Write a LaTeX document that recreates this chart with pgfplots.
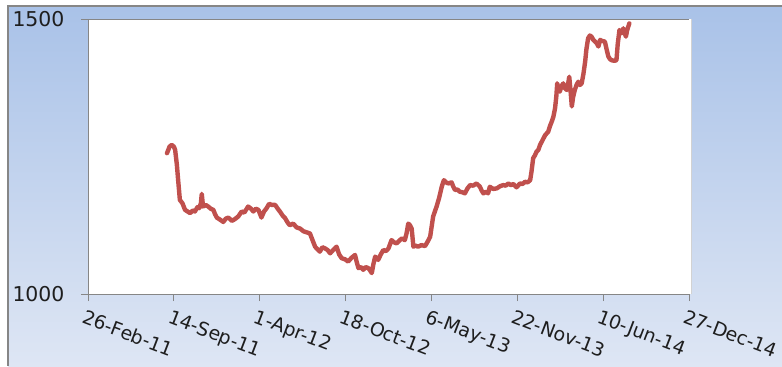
\documentclass[border=0pt]{standalone}
\usepackage{pgfplots}
\pgfplotsset{compat=1.18}
\usepackage{fontspec}
\setmainfont{DejaVu Sans}
\definecolor{bgtop}{RGB}{169,194,232}
\definecolor{bgbot}{RGB}{222,230,244}
\definecolor{axgray}{RGB}{134,134,134}
\definecolor{linered}{RGB}{192,80,77}
\definecolor{txt}{RGB}{30,30,30}
\pgfplotstableread{
day val
184 1256
190 1268
195 1271
200 1268
203 1262
207 1235
210 1207
214 1171
220 1165
226 1153
232 1150
238 1147
244 1152
249 1150
255 1158
259 1156
263 1165
265 1182
268 1159
274 1162
280 1159
286 1155
292 1153
296 1145
300 1139
308 1135
315 1131
321 1137
327 1139
335 1133
342 1136
350 1141
358 1150
364 1148
373 1159
380 1155
385 1150
391 1155
397 1153
404 1139
410 1150
416 1156
422 1164
428 1162
436 1162
442 1155
447 1150
453 1143
459 1138
465 1130
470 1125
478 1128
486 1121
494 1119
502 1114
510 1112
517 1110
523 1098
529 1086
535 1081
540 1077
546 1085
552 1083
558 1080
564 1074
571 1080
579 1086
585 1072
591 1065
599 1063
606 1059
614 1066
622 1071
626 1058
630 1047
636 1049
641 1044
647 1049
653 1047
657 1043
661 1038
665 1055
669 1068
676 1062
682 1072
688 1080
694 1078
700 1083
707 1098
713 1094
719 1092
725 1097
731 1101
738 1098
742 1110
746 1128
750 1125
754 1119
758 1086
763 1088
769 1086
777 1089
785 1087
791 1095
797 1104
804 1141
812 1159
818 1175
824 1195
829 1207
834 1203
839 1201
847 1203
851 1195
855 1189
861 1190
866 1186
872 1185
878 1183
884 1192
890 1198
897 1197
905 1201
913 1195
917 1188
921 1183
927 1186
932 1183
936 1195
944 1191
952 1192
960 1196
967 1198
973 1197
979 1201
985 1198
991 1200
998 1194
1002 1197
1006 1201
1012 1200
1018 1204
1024 1203
1030 1207
1033 1222
1037 1247
1041 1252
1045 1259
1049 1262
1053 1271
1059 1280
1065 1289
1072 1295
1076 1305
1080 1313
1084 1322
1088 1338
1091 1360
1093 1383
1096 1372
1099 1368
1103 1378
1107 1383
1111 1374
1115 1371
1118 1380
1121 1395
1124 1370
1127 1341
1130 1358
1134 1371
1138 1380
1142 1386
1146 1380
1150 1383
1154 1400
1158 1422
1161 1445
1165 1465
1169 1470
1173 1468
1177 1462
1181 1459
1185 1456
1189 1450
1193 1462
1198 1460
1204 1459
1208 1445
1212 1432
1216 1427
1220 1425
1226 1424
1231 1425
1234 1455
1238 1480
1243 1474
1247 1483
1250 1475
1253 1468
1256 1480
1261 1492
}\series
\begin{document}
\begin{tikzpicture}[x=1bp,y=1bp]
\useasboundingbox (0,0) rectangle (782,366);
\fill[white] (0,0) rectangle (782,366);
\shade[top color=bgtop,bottom color=bgbot] (8,0) rectangle (782,360);
\draw[axgray,line width=1.5bp] (8,0) -- (8,360) -- (782,360);
\fill[white] (88,72) rectangle (691,347);
\draw[gray!35,line width=0.8bp] (691,72)--(691,347);
\begin{axis}[
  at={(88bp,72bp)}, anchor=south west,
  scale only axis, width=601bp, height=275bp,
  xmin=0, xmax=1400, ymin=1000, ymax=1500,
  xtick={0,200,...,1400},
  xticklabels={26-Feb-11,14-Sep-11,1-Apr-12,18-Oct-12,6-May-13,22-Nov-13,10-Jun-14,27-Dec-14},
  ytick={1000,1500},
  axis x line*=bottom, axis y line*=left,
  axis line style={axgray, line width=1bp, -},
  ymajorgrids, grid style={axgray, line width=1bp},
  tick style={axgray, line width=1bp},
  tick align=outside, major tick length=7bp,
  /pgf/number format/assume math mode=true,
  /pgf/number format/set thousands separator={},
  tick label style={text=txt},
  x tick label style={rotate=-21, anchor=north west, inner sep=1bp, yshift=-7bp, font=\fontsize{19}{19}\selectfont},
  y tick label style={anchor=east, xshift=-13bp, font=\fontsize{20.5}{20.5}\selectfont},
  clip=false,
]
\addplot[linered, line width=4.4bp, line join=round, line cap=round] table[x=day,y=val] {\series};
\end{axis}
\end{tikzpicture}
\end{document}
